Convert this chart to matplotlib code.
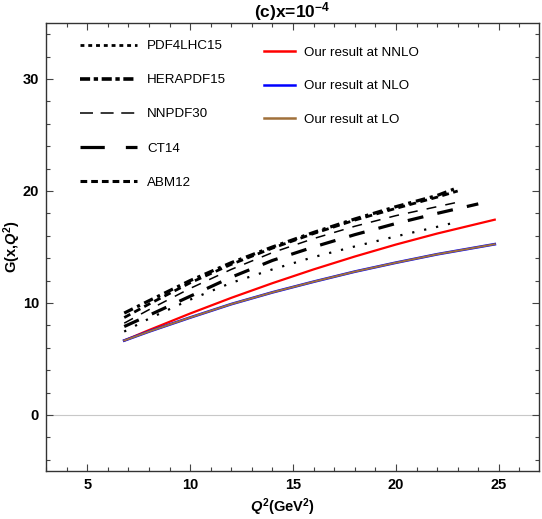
import matplotlib
matplotlib.use("Agg")
import matplotlib.pyplot as plt
from matplotlib.ticker import MultipleLocator
from matplotlib.lines import Line2D

plt.rcParams['font.family'] = ['Liberation Sans', 'DejaVu Sans']
plt.rcParams['mathtext.fontset'] = 'custom'
plt.rcParams['mathtext.rm'] = 'Liberation Sans:bold'
plt.rcParams['mathtext.it'] = 'Liberation Sans:bold:italic'
plt.rcParams['mathtext.bf'] = 'Liberation Sans:bold'

# ---- data ----
q2_ours = [6.8, 8, 10, 12, 14, 16, 18, 20, 22, 24.8]
g_nnlo = [6.65, 7.58, 9.06, 10.46, 11.77, 13.0, 14.15, 15.22, 16.2, 17.44]
g_nlo = [6.65, 7.45, 8.7, 9.9, 10.95, 11.9, 12.8, 13.6, 14.35, 15.25]
g_lo = [6.65, 7.45, 8.7, 9.9, 10.95, 11.9, 12.8, 13.6, 14.35, 15.25]

q2_pdf = [6.8, 8, 10, 12, 14, 16, 18, 20, 22, 23]
g_pdf4lhc15 = [7.45, 8.6, 10.3, 11.8, 13.0, 14.1, 15.05, 15.95, 16.8, 17.25]
g_herapdf15 = [9.1, 10.2, 12.0, 13.6, 15.0, 16.3, 17.5, 18.6, 19.6, 20.3]
g_nnpdf30 = [8.2, 9.4, 11.3, 13.0, 14.5, 15.75, 16.85, 17.8, 18.6, 19.0]
g_abm12 = [8.7, 9.9, 11.8, 13.45, 14.9, 16.2, 17.4, 18.45, 19.45, 20.0]
q2_ct14 = [6.8, 8, 10, 12, 14, 16, 18, 20, 22, 24]
g_ct14 = [7.9, 8.9, 10.6, 12.3, 13.8, 15.0, 16.1, 17.1, 18.0, 18.85]

x_ticks = [5, 10, 15, 20, 25]
y_ticks = [0, 10, 20, 30]

fig = plt.figure(figsize=(5.42, 5.19), dpi=100)
ax = fig.add_axes([46/542, 48/519, 493/542, 448/519])

ax.axhline(0, color='#c8c8c8', lw=0.8, zorder=0)

ax.plot(q2_pdf, g_pdf4lhc15, color='black', lw=1.6, linestyle=(0, (1.0, 4.5)))
ax.plot(q2_pdf, g_herapdf15, color='black', lw=2.3, linestyle=(0, (3.0, 1.5, 1.0, 1.5)))
ax.plot(q2_pdf, g_nnpdf30, color='black', lw=1.1, linestyle=(0, (6.5, 6.0)))
ax.plot(q2_ct14, g_ct14, color='black', lw=2.3, linestyle=(0, (5.0, 4.5)))
ax.plot(q2_pdf, g_abm12, color='black', lw=2.0, linestyle=(0, (2.5, 1.6)))

ax.plot(q2_ours, g_nnlo, color='#ff0000', lw=1.6)
ax.plot(q2_ours, g_nlo, color='#0000ff', lw=2.0)
ax.plot(q2_ours, g_lo, color='#a0703a', lw=1.4)

ax.set_xlim(3.0, 26.95)
ax.set_ylim(-5.0, 35.0)
ax.set_xticks(x_ticks)
ax.set_yticks(y_ticks)
ax.xaxis.set_minor_locator(MultipleLocator(1))
ax.yaxis.set_minor_locator(MultipleLocator(2))
ax.tick_params(which='both', direction='in', top=True, right=True, colors='#444444',
               labelcolor='black', labelsize=10.5, width=0.8)
ax.tick_params(which='major', length=5, pad=5)
ax.tick_params(which='minor', length=3)
for lbl in ax.get_xticklabels() + ax.get_yticklabels():
    lbl.set_fontweight('bold')
for s in ax.spines.values():
    s.set_color('#333333')
    s.set_linewidth(1.0)

ax.set_title(r'(c)x=10$^{-4}$', fontsize=12.5, fontweight='bold', pad=2)
ax.set_xlabel(r'$Q^{2}$(GeV$^{2}$)', fontsize=10.5, fontweight='bold')
ax.xaxis.set_label_coords(0.48, -0.056)
ax.set_ylabel(r'G(x,$Q^{2}$)', fontsize=10.5, fontweight='bold')
ax.yaxis.set_label_coords(-0.047, 0.5)

# legend proxies (legend samples drawn with Mathematica-like dash patterns)
p_pdf4 = Line2D([], [], color='black', lw=2.0, linestyle=(0, (1.4, 1.4)))
p_hera = Line2D([], [], color='black', lw=2.6, linestyle=(0, (2.8, 1.0, 1.2, 1.0)))
p_nnpdf = Line2D([], [], color='black', lw=1.1, linestyle=(0, (8.5, 5.0)))
p_ct14 = Line2D([], [], color='black', lw=2.3, linestyle=(0, (7.6, 6.6)))
p_abm = Line2D([], [], color='black', lw=2.2, linestyle=(0, (2.2, 1.3)))
p_nnlo = Line2D([], [], color='#ff0000', lw=1.8)
p_nlo = Line2D([], [], color='#0000ff', lw=1.8)
p_lo = Line2D([], [], color='#a0703a', lw=1.8)

leg1 = ax.legend(handles=[p_pdf4, p_hera, p_nnpdf, p_ct14, p_abm],
                 labels=['PDF4LHC15', 'HERAPDF15', 'NNPDF30', 'CT14', 'ABM12'],
                 loc='upper left', bbox_to_anchor=(0.069, 0.962), borderaxespad=0, borderpad=0,
                 frameon=False, fontsize=9.6, handlelength=4.3, handletextpad=0.75,
                 labelspacing=1.63)
ax.add_artist(leg1)
leg2 = ax.legend(handles=[p_nnlo, p_nlo, p_lo],
                 labels=['Our result at NNLO', 'Our result at NLO', 'Our result at LO'],
                 loc='upper left', bbox_to_anchor=(0.442, 0.948), borderaxespad=0, borderpad=0,
                 frameon=False, fontsize=9.6, handlelength=2.3, handletextpad=0.7,
                 labelspacing=1.6)

fig.savefig('out.png', dpi=100)
